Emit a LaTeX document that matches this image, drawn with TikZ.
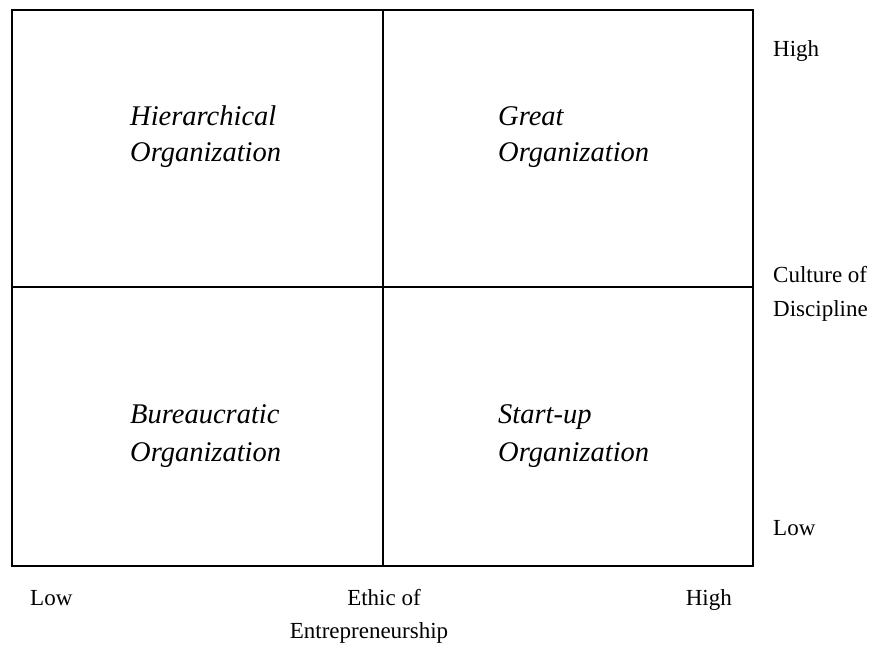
\documentclass[tikz,border=0pt]{standalone}
\usepackage{fontspec}
\setmainfont{Liberation Serif}
\begin{document}
\begin{tikzpicture}[x=1pt,y=-1pt,
  quad/.style={font=\fontsize{28.5}{31}\selectfont\itshape, anchor=base west, inner sep=0pt},
  axis/.style={font=\fontsize{23}{26}\selectfont, inner sep=0pt},
  frame/.style={line width=1.6pt}]
\useasboundingbox (0,0) rectangle (885,646);
\coordinate (tl) at (12,10);
\coordinate (br) at (753,566);
\coordinate (mt) at (383,10);
\coordinate (mb) at (383,566);
\coordinate (ml) at (12,287);
\coordinate (mr) at (753,287);
\draw[frame] (tl) rectangle (br);
\draw[frame] (mt) -- (mb);
\draw[frame] (ml) -- (mr);
% quadrant labels
\node[quad] (h1) at (130,125) {Hierarchical};
\node[quad] (h2) at (130,161) {Organization};
\node[quad] (g1) at (498,125) {Great};
\node[quad] (g2) at (498,161) {Organization};
\node[quad] (b1) at (130,423) {Bureaucratic};
\node[quad] (b2) at (130,461) {Organization};
\node[quad] (s1) at (498,423) {Start-up};
\node[quad] (s2) at (498,461) {Organization};
% right axis
\node[axis, anchor=base west] (rh) at (773,56) {High};
\node[axis, anchor=base west] (rc) at (773,282) {Culture of};
\node[axis, anchor=base west] (rd) at (773,316) {Discipline};
\node[axis, anchor=base west] (rl) at (773,535) {Low};
% bottom axis
\node[axis, anchor=base west] (bl) at (30,605) {Low};
\node[axis, anchor=base] (be) at (384,605) {Ethic of};
\node[axis, anchor=base] (bt) at (369,638) {Entrepreneurship};
\node[axis, anchor=base east] (bh) at (732,605) {High};
\end{tikzpicture}
\end{document}
